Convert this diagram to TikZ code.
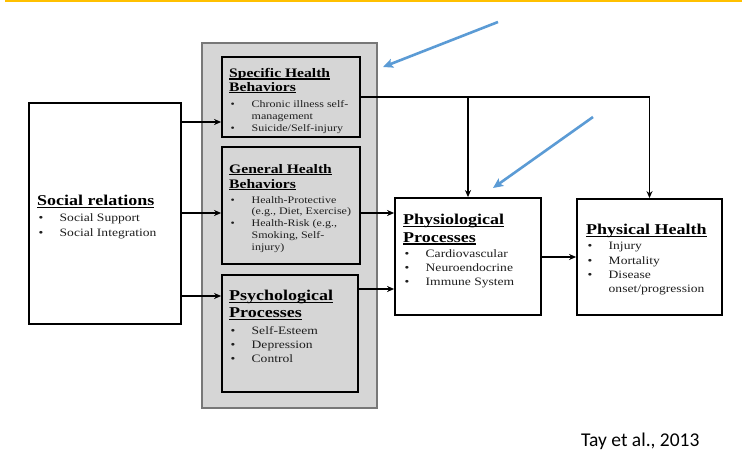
\documentclass[tikz,border=0pt]{standalone}
\usepackage{fontspec}
\setmainfont{Liberation Serif}[FakeStretch=1.2]
\newfontfamily\slidefont{Carlito}
\usetikzlibrary{arrows.meta}
\definecolor{slidegold}{RGB}{255,192,0}
\definecolor{blueann}{RGB}{91,155,213}
\definecolor{panelgray}{RGB}{214,214,214}
\definecolor{panelline}{RGB}{120,120,120}
\definecolor{bodytxt}{RGB}{30,30,30}
\newcommand\hul[1]{\setbox0\hbox{#1}\rlap{\rule[-2.2pt]{\wd0}{1.2pt}}\box0}
\newcommand\blt{\makebox[22.5pt][l]{\hspace{1.5pt}\textbullet}}
\newcommand\ind{\hspace*{22.5pt}}
\newcommand\hdL{\fontsize{15}{17.5}\selectfont\bfseries\color{black}}
\newcommand\hdS{\fontsize{13}{14}\selectfont\bfseries\color{black}}
\newcommand\txL{\fontsize{11.3}{14.2}\selectfont\mdseries\color{bodytxt}}
\newcommand\txS{\fontsize{10}{11.9}\selectfont\mdseries\color{bodytxt}}
\begin{document}
\begin{tikzpicture}[x=1pt,y=-1pt,
  panel/.style={draw=panelline,fill=panelgray,line width=1.3pt,inner sep=0pt},
  box/.style={draw=black,line width=1.8pt,inner sep=0pt},
  txtL/.style={anchor=north west,inner sep=0pt,align=left,font=\txL},
  txtS/.style={anchor=north west,inner sep=0pt,align=left,font=\txS},
  arr/.style={draw=black,line width=1.4pt,-{Stealth[length=7pt,width=6pt]}},
  bluearr/.style={draw=blueann,line width=2.6pt,-{Stealth[length=10pt,width=9pt,inset=2pt]}}]
\fill[white] (0,0) rectangle (742,460);
\useasboundingbox (0,0) rectangle (742,460);
% slide rule
\coordinate (g1) at (5,0.9);
\coordinate (g2) at (742,0.9);
\draw[slidegold,line width=1.6pt] (g1) -- (g2);
% boxes
\node[panel,minimum width=175pt,minimum height=365pt] (grp) at (289.5,225.5) {};
\node[box,minimum width=152pt,minimum height=221pt] (soc) at (105,213.5) {};
\node[box,minimum width=138pt,minimum height=80pt] (spec) at (291,97) {};
\node[box,minimum width=138pt,minimum height=117pt] (gen) at (291,205.5) {};
\node[box,minimum width=136pt,minimum height=117pt] (psy) at (290,333.5) {};
\node[box,fill=white,minimum width=146pt,minimum height=117pt] (phys) at (468,256.5) {};
\node[box,fill=white,minimum width=145pt,minimum height=116pt] (hlth) at (649.5,257) {};
% texts
\node[txtL] (soct) at (37,195) {\hdL\hul{Social relations}\\[2pt]
  \blt Social Support\\ \blt Social Integration};
\node[txtS] (spect) at (229,68) {\hdS\hul{Specific Health}\\[2pt] \hdS\hul{Behaviors}\\[4pt]
  \blt Chronic illness self-\\[0.5pt] \ind management\\[0.5pt] \blt Suicide/Self-injury};
\node[txtS] (gent) at (229,164) {\hdS\hul{General Health}\\[3pt] \hdS\hul{Behaviors}\\[3pt]
  \blt Health-Protective\\ \ind (e.g., Diet, Exercise)\\ \blt Health-Risk (e.g.,\\
  \ind Smoking, Self-\\ \ind injury)};
\node[txtL] (psyt) at (229,290) {\hdL\hul{Psychological}\\[3pt] \hdL\hul{Processes}\\[2pt]
  \blt Self-Esteem\\ \blt Depression\\ \blt Control};
\node[txtL] (physt) at (403,214) {\hdL\hul{Physiological}\\[3.5pt] \hdL\hul{Processes}\\[1pt]
  \blt Cardiovascular\\ \blt Neuroendocrine\\ \blt Immune System};
\node[txtL] (hltht) at (586,224) {\hdL\hul{Physical Health}\\[1pt]
  \blt Injury\\ \blt Mortality\\ \blt Disease\\ \ind onset/progression};
\node[anchor=base west,inner sep=0pt,font=\slidefont\fontsize{19.5}{22}\selectfont] (cite) at (581,446) {Tay et al., 2013};
% connectors
\draw[arr] (soc.east |- 0,122) -- (spec.west |- 0,122);
\draw[arr] (soc.east |- 0,213) -- (gen.west |- 0,213);
\draw[arr] (soc.east |- 0,296) -- (psy.west |- 0,296);
\draw[arr] (spec.east) -| (hlth.north);
\draw[arr] (spec.east -| phys.north) -- (phys.north);
\draw[arr] (gen.east |- 0,213) -- (phys.west |- 0,213);
\draw[arr] (psy.east |- 0,289) -- (phys.west |- 0,289);
\draw[arr] (phys.east |- 0,257) -- (hlth.west |- 0,257);
% annotation arrows
\coordinate (b1s) at (498,22);
\coordinate (b1e) at (383,67);
\coordinate (b2s) at (593,117);
\coordinate (b2e) at (493,188);
\draw[bluearr] (b1s) -- (b1e);
\draw[bluearr] (b2s) -- (b2e);
\end{tikzpicture}
\end{document}
